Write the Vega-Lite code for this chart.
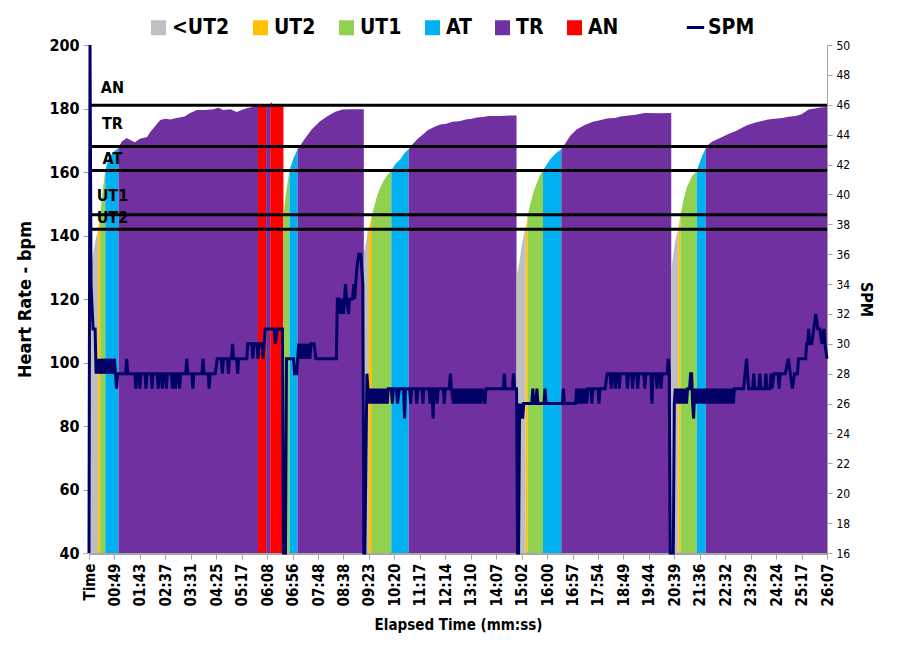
{
"$schema":"https://vega.github.io/schema/vega-lite/v6.json",
"width":738,"height":508,
"autosize":{"type":"none"},
"padding":{"left":89,"top":45,"right":83,"bottom":107},
"background":"white",
"config":{
 "font":"Liberation Sans Narrow, DejaVu Sans Condensed, Liberation Sans, sans-serif",
 "view":{"stroke":null},
 "axis":{"labelColor":"black","titleColor":"black","domainColor":"#A6A6A6","tickColor":"#A6A6A6","grid":false,"labelFontWeight":"bold","titleFontWeight":"bold"},
 "axisX":{"labelOverlap":false,"labelFlush":false},
 "legend":{"labelFontWeight":"bold","labelFontSize":21,"labelColor":"black"}
},
"datasets":{
"th":[{"z":"AN","v":181,"l":186.5,"lx":23},{"z":"TR","v":168,"l":175,"lx":23},{"z":"AT","v":160.5,"l":164,"lx":23},{"z":"UT1","v":146.5,"l":152.5,"lx":23},{"z":"UT2","v":142,"l":145.5,"lx":23}],
"hr":[
{"n":0,"hr":120,"z":"<UT2","s":1},{"n":3,"hr":132,"z":"<UT2","s":1},{"n":6,"hr":138,"z":"<UT2","s":1},{"n":9,"hr":142,"z":"<UT2","s":1},
{"n":9,"hr":142,"z":"UT2","s":2},{"n":11,"hr":146.5,"z":"UT2","s":2},
{"n":11,"hr":146.5,"z":"UT1","s":3},{"n":13,"hr":153,"z":"UT1","s":3},{"n":16,"hr":160.5,"z":"UT1","s":3},
{"n":16,"hr":160.5,"z":"AT","s":4},{"n":19,"hr":164,"z":"AT","s":4},{"n":23,"hr":166,"z":"AT","s":4},{"n":29,"hr":167.6,"z":"AT","s":4},
{"n":29,"hr":167.6,"z":"TR","s":5},{"n":32,"hr":169.5,"z":"TR","s":5},{"n":37,"hr":170.7,"z":"TR","s":5},{"n":41,"hr":170,"z":"TR","s":5},{"n":45,"hr":169.4,"z":"TR","s":5},{"n":50,"hr":170.5,"z":"TR","s":5},{"n":57,"hr":171,"z":"TR","s":5},{"n":60,"hr":172.5,"z":"TR","s":5},{"n":65,"hr":174.5,"z":"TR","s":5},{"n":70,"hr":176.4,"z":"TR","s":5},{"n":75,"hr":176.8,"z":"TR","s":5},{"n":80,"hr":176.5,"z":"TR","s":5},{"n":86,"hr":177,"z":"TR","s":5},{"n":94,"hr":177.5,"z":"TR","s":5},{"n":99,"hr":178.5,"z":"TR","s":5},{"n":106,"hr":179.5,"z":"TR","s":5},{"n":114,"hr":179.5,"z":"TR","s":5},{"n":122,"hr":179.8,"z":"TR","s":5},{"n":127,"hr":180.2,"z":"TR","s":5},{"n":132,"hr":179.5,"z":"TR","s":5},{"n":139,"hr":179.8,"z":"TR","s":5},{"n":145,"hr":178.9,"z":"TR","s":5},{"n":150,"hr":179.5,"z":"TR","s":5},{"n":155,"hr":180.1,"z":"TR","s":5},{"n":160,"hr":180.5,"z":"TR","s":5},{"n":166,"hr":181,"z":"TR","s":5},
{"n":166,"hr":181,"z":"AN","s":6},{"n":167,"hr":181.4,"z":"AN","s":6},{"n":174,"hr":181.4,"z":"AN","s":6},
{"n":174,"hr":181.4,"z":"TR","s":7},{"n":175,"hr":180.8,"z":"TR","s":7},{"n":177,"hr":180.8,"z":"TR","s":7},{"n":178,"hr":181.4,"z":"TR","s":7},
{"n":178,"hr":181.4,"z":"AN","s":8},{"n":179,"hr":182,"z":"AN","s":8},{"n":180,"hr":181.4,"z":"AN","s":8},{"n":191,"hr":181.4,"z":"AN","s":8},
{"n":191,"hr":146.5,"z":"UT1","s":9},{"n":193,"hr":152,"z":"UT1","s":9},{"n":195,"hr":156.5,"z":"UT1","s":9},{"n":197,"hr":160.5,"z":"UT1","s":9},
{"n":197,"hr":160.5,"z":"AT","s":10},{"n":201,"hr":164.5,"z":"AT","s":10},{"n":205,"hr":167.2,"z":"AT","s":10},
{"n":205,"hr":167.2,"z":"TR","s":11},{"n":212,"hr":170.5,"z":"TR","s":11},{"n":219,"hr":173.5,"z":"TR","s":11},{"n":227,"hr":176,"z":"TR","s":11},{"n":235,"hr":177.7,"z":"TR","s":11},{"n":242,"hr":179,"z":"TR","s":11},{"n":249,"hr":179.7,"z":"TR","s":11},{"n":256,"hr":179.8,"z":"TR","s":11},{"n":270,"hr":179.8,"z":"TR","s":11},
{"n":270,"hr":134.5,"z":"<UT2","s":12},{"n":272,"hr":137.5,"z":"<UT2","s":12},{"n":274,"hr":141.7,"z":"<UT2","s":12},{"n":275,"hr":142,"z":"<UT2","s":12},
{"n":275,"hr":142,"z":"UT2","s":13},{"n":278,"hr":146.5,"z":"UT2","s":13},
{"n":278,"hr":146.5,"z":"UT1","s":14},{"n":281,"hr":150,"z":"UT1","s":14},{"n":283,"hr":152.5,"z":"UT1","s":14},{"n":286,"hr":155,"z":"UT1","s":14},{"n":289,"hr":157,"z":"UT1","s":14},{"n":293,"hr":159,"z":"UT1","s":14},{"n":297,"hr":160.5,"z":"UT1","s":14},
{"n":297,"hr":160.5,"z":"AT","s":15},{"n":301,"hr":162.5,"z":"AT","s":15},{"n":306,"hr":164,"z":"AT","s":15},{"n":310,"hr":166,"z":"AT","s":15},{"n":314,"hr":167.2,"z":"AT","s":15},
{"n":314,"hr":167.2,"z":"TR","s":16},{"n":318,"hr":168.8,"z":"TR","s":16},{"n":323,"hr":170.5,"z":"TR","s":16},{"n":328,"hr":171.8,"z":"TR","s":16},{"n":333,"hr":173.2,"z":"TR","s":16},{"n":339,"hr":174.2,"z":"TR","s":16},{"n":345,"hr":175,"z":"TR","s":16},{"n":351,"hr":175.2,"z":"TR","s":16},{"n":357,"hr":175.8,"z":"TR","s":16},{"n":364,"hr":176,"z":"TR","s":16},{"n":370,"hr":176.5,"z":"TR","s":16},{"n":376,"hr":176.8,"z":"TR","s":16},{"n":381,"hr":177.2,"z":"TR","s":16},{"n":387,"hr":177.3,"z":"TR","s":16},{"n":393,"hr":177.6,"z":"TR","s":16},{"n":404,"hr":177.6,"z":"TR","s":16},{"n":414,"hr":177.8,"z":"TR","s":16},{"n":420,"hr":177.8,"z":"TR","s":16},
{"n":420,"hr":127,"z":"<UT2","s":17},{"n":423,"hr":132,"z":"<UT2","s":17},{"n":425,"hr":136.5,"z":"<UT2","s":17},{"n":428,"hr":141.5,"z":"<UT2","s":17},{"n":429,"hr":142,"z":"<UT2","s":17},
{"n":429,"hr":142,"z":"UT2","s":18},{"n":431,"hr":146.5,"z":"UT2","s":18},
{"n":431,"hr":146.5,"z":"UT1","s":19},{"n":434,"hr":150.5,"z":"UT1","s":19},{"n":437,"hr":154,"z":"UT1","s":19},{"n":440,"hr":156.5,"z":"UT1","s":19},{"n":443,"hr":159,"z":"UT1","s":19},{"n":446,"hr":160.5,"z":"UT1","s":19},
{"n":446,"hr":160.5,"z":"AT","s":20},{"n":450,"hr":162.5,"z":"AT","s":20},{"n":454,"hr":164.3,"z":"AT","s":20},{"n":459,"hr":166,"z":"AT","s":20},{"n":464,"hr":167.2,"z":"AT","s":20},
{"n":464,"hr":167.2,"z":"TR","s":21},{"n":469,"hr":169.5,"z":"TR","s":21},{"n":473,"hr":171.5,"z":"TR","s":21},{"n":479,"hr":173.4,"z":"TR","s":21},{"n":487,"hr":174.8,"z":"TR","s":21},{"n":495,"hr":175.8,"z":"TR","s":21},{"n":502,"hr":176.3,"z":"TR","s":21},{"n":510,"hr":176.9,"z":"TR","s":21},{"n":517,"hr":177,"z":"TR","s":21},{"n":522,"hr":177.5,"z":"TR","s":21},{"n":530,"hr":177.8,"z":"TR","s":21},{"n":537,"hr":178,"z":"TR","s":21},{"n":546,"hr":178.6,"z":"TR","s":21},{"n":561,"hr":178.5,"z":"TR","s":21},{"n":572,"hr":178.6,"z":"TR","s":21},
{"n":572,"hr":129,"z":"<UT2","s":22},{"n":574,"hr":134,"z":"<UT2","s":22},{"n":576,"hr":138.5,"z":"<UT2","s":22},{"n":579,"hr":142,"z":"<UT2","s":22},
{"n":579,"hr":142,"z":"UT2","s":23},{"n":581,"hr":146.5,"z":"UT2","s":23},
{"n":581,"hr":146.5,"z":"UT1","s":24},{"n":584,"hr":151,"z":"UT1","s":24},{"n":587,"hr":155,"z":"UT1","s":24},{"n":592,"hr":158.4,"z":"UT1","s":24},{"n":597,"hr":160.5,"z":"UT1","s":24},
{"n":597,"hr":160.5,"z":"AT","s":25},{"n":600,"hr":163,"z":"AT","s":25},{"n":603,"hr":165.5,"z":"AT","s":25},{"n":606,"hr":167.5,"z":"AT","s":25},
{"n":606,"hr":167.5,"z":"TR","s":26},{"n":608,"hr":168.5,"z":"TR","s":26},{"n":612,"hr":169.5,"z":"TR","s":26},{"n":615,"hr":170,"z":"TR","s":26},{"n":622,"hr":171,"z":"TR","s":26},{"n":628,"hr":172,"z":"TR","s":26},{"n":635,"hr":172.8,"z":"TR","s":26},{"n":642,"hr":174,"z":"TR","s":26},{"n":647,"hr":174.8,"z":"TR","s":26},{"n":654,"hr":175.5,"z":"TR","s":26},{"n":660,"hr":176,"z":"TR","s":26},{"n":667,"hr":176.5,"z":"TR","s":26},{"n":674,"hr":176.8,"z":"TR","s":26},{"n":681,"hr":177,"z":"TR","s":26},{"n":687,"hr":177.4,"z":"TR","s":26},{"n":694,"hr":177.6,"z":"TR","s":26},{"n":700,"hr":178.2,"z":"TR","s":26},{"n":707,"hr":179.7,"z":"TR","s":26},{"n":713,"hr":180,"z":"TR","s":26},{"n":718,"hr":180.3,"z":"TR","s":26},{"n":725,"hr":180.5,"z":"TR","s":26}
],
"spm":[
{"n":0,"s":16},{"n":1,"s":50},{"n":2,"s":34},{"n":4,"s":31},{"n":6,"s":31},{"n":7,"s":28},{"n":8,"s":29},{"n":9,"s":28},{"n":10,"s":29},{"n":11,"s":28},{"n":13,"s":29},{"n":14,"s":28},{"n":16,"s":29},{"n":17,"s":28},{"n":19,"s":29},{"n":20,"s":28},{"n":22,"s":29},{"n":23,"s":28},{"n":25,"s":29},{"n":26,"s":28},{"n":27,"s":27},{"n":28,"s":28},{"n":36,"s":28},{"n":37,"s":29},{"n":38,"s":28},{"n":45,"s":28},{"n":46,"s":27},{"n":47,"s":28},{"n":49,"s":28},{"n":50,"s":27},{"n":51,"s":28},{"n":55,"s":28},{"n":56,"s":27},{"n":57,"s":28},{"n":61,"s":28},{"n":62,"s":27},{"n":63,"s":28},{"n":67,"s":28},{"n":68,"s":27},{"n":69,"s":28},{"n":71,"s":28},{"n":72,"s":27},{"n":73,"s":28},{"n":75,"s":28},{"n":76,"s":27},{"n":77,"s":28},{"n":81,"s":28},{"n":82,"s":27},{"n":83,"s":28},{"n":84,"s":28},{"n":85,"s":27},{"n":86,"s":28},{"n":88,"s":28},{"n":89,"s":27},{"n":90,"s":28},{"n":95,"s":28},{"n":96,"s":29},{"n":97,"s":28},{"n":101,"s":28},{"n":102,"s":27},{"n":103,"s":28},{"n":111,"s":28},{"n":112,"s":29},{"n":113,"s":28},{"n":117,"s":28},{"n":118,"s":27},{"n":119,"s":28},{"n":124,"s":28},{"n":126,"s":29},{"n":130,"s":29},{"n":131,"s":28},{"n":132,"s":29},{"n":136,"s":29},{"n":137,"s":28},{"n":138,"s":29},{"n":140,"s":29},{"n":141,"s":30},{"n":142,"s":29},{"n":145,"s":29},{"n":146,"s":28},{"n":147,"s":29},{"n":155,"s":29},{"n":156,"s":30},{"n":160,"s":30},{"n":161,"s":29},{"n":162,"s":30},{"n":165,"s":30},{"n":166,"s":29},{"n":167,"s":30},{"n":170,"s":30},{"n":171,"s":29},{"n":172,"s":30},{"n":173,"s":31},{"n":182,"s":31},{"n":183,"s":30},{"n":185,"s":31},{"n":190,"s":31},{"n":191,"s":16},{"n":193,"s":16},{"n":194,"s":29},{"n":201,"s":29},{"n":202,"s":28},{"n":204,"s":28},{"n":205,"s":29},{"n":206,"s":30},{"n":208,"s":29},{"n":209,"s":30},{"n":211,"s":29},{"n":212,"s":30},{"n":214,"s":29},{"n":215,"s":30},{"n":217,"s":29},{"n":218,"s":30},{"n":221,"s":30},{"n":223,"s":29},{"n":243,"s":29},{"n":244,"s":33},{"n":246,"s":33},{"n":247,"s":32},{"n":248,"s":33},{"n":250,"s":32},{"n":251,"s":33},{"n":252,"s":34},{"n":253,"s":33},{"n":255,"s":32},{"n":256,"s":33},{"n":259,"s":33},{"n":260,"s":34},{"n":261,"s":33},{"n":263,"s":35},{"n":265,"s":36},{"n":267,"s":36},{"n":269,"s":34},{"n":270,"s":16},
{"n":271,"s":16},{"n":273,"s":28},{"n":274,"s":27},{"n":275,"s":26},{"n":276,"s":27},{"n":278,"s":26},{"n":279,"s":27},{"n":281,"s":26},{"n":282,"s":27},{"n":284,"s":26},{"n":285,"s":27},{"n":287,"s":26},{"n":288,"s":27},{"n":290,"s":26},{"n":291,"s":27},{"n":293,"s":26},{"n":294,"s":27},{"n":297,"s":27},{"n":298,"s":26},{"n":299,"s":27},{"n":302,"s":27},{"n":303,"s":26},{"n":305,"s":27},{"n":309,"s":27},{"n":310,"s":25},{"n":311,"s":27},{"n":315,"s":27},{"n":316,"s":26},{"n":317,"s":27},{"n":321,"s":27},{"n":322,"s":26},{"n":323,"s":27},{"n":327,"s":27},{"n":328,"s":26},{"n":329,"s":27},{"n":334,"s":27},{"n":335,"s":26},{"n":336,"s":27},{"n":337,"s":27},{"n":338,"s":25},{"n":339,"s":27},{"n":341,"s":27},{"n":342,"s":26},{"n":343,"s":27},{"n":348,"s":27},{"n":349,"s":26},{"n":350,"s":27},{"n":354,"s":27},{"n":355,"s":28},{"n":356,"s":27},{"n":358,"s":26},{"n":359,"s":27},{"n":361,"s":26},{"n":362,"s":27},{"n":364,"s":26},{"n":365,"s":27},{"n":367,"s":26},{"n":368,"s":27},{"n":370,"s":26},{"n":371,"s":27},{"n":373,"s":26},{"n":374,"s":27},{"n":376,"s":26},{"n":377,"s":27},{"n":379,"s":26},{"n":380,"s":27},{"n":382,"s":26},{"n":383,"s":27},{"n":385,"s":26},{"n":386,"s":27},{"n":389,"s":26},{"n":390,"s":27},{"n":407,"s":27},{"n":408,"s":28},{"n":409,"s":27},{"n":416,"s":27},{"n":417,"s":28},{"n":418,"s":27},{"n":420,"s":27},{"n":421,"s":16},{"n":422,"s":16},{"n":423,"s":26},{"n":424,"s":25},{"n":425,"s":26},{"n":426,"s":25},{"n":427,"s":26},
{"n":430,"s":26},{"n":435,"s":26},{"n":436,"s":27},{"n":437,"s":26},{"n":439,"s":26},{"n":440,"s":27},{"n":441,"s":26},{"n":447,"s":26},{"n":448,"s":27},{"n":449,"s":26},{"n":465,"s":26},{"n":466,"s":27},{"n":467,"s":26},{"n":478,"s":26},{"n":479,"s":27},{"n":480,"s":26},{"n":481,"s":27},{"n":483,"s":26},{"n":484,"s":27},{"n":486,"s":26},{"n":487,"s":27},{"n":489,"s":26},{"n":490,"s":27},{"n":493,"s":27},{"n":494,"s":26},{"n":495,"s":27},{"n":500,"s":27},{"n":501,"s":26},{"n":502,"s":27},{"n":507,"s":27},{"n":509,"s":28},{"n":512,"s":28},{"n":513,"s":27},{"n":514,"s":28},{"n":516,"s":28},{"n":517,"s":27},{"n":518,"s":28},{"n":520,"s":28},{"n":521,"s":27},{"n":522,"s":28},{"n":528,"s":28},{"n":529,"s":27},{"n":530,"s":28},{"n":533,"s":28},{"n":534,"s":27},{"n":535,"s":28},{"n":538,"s":28},{"n":539,"s":27},{"n":540,"s":28},{"n":545,"s":28},{"n":546,"s":27},{"n":547,"s":28},{"n":552,"s":28},{"n":553,"s":26},{"n":554,"s":28},{"n":557,"s":28},{"n":558,"s":27},{"n":559,"s":28},{"n":561,"s":28},{"n":562,"s":27},{"n":563,"s":28},{"n":568,"s":28},{"n":569,"s":29},{"n":570,"s":28},{"n":571,"s":16},
{"n":572,"s":16},{"n":574,"s":16},{"n":575,"s":26},{"n":576,"s":27},{"n":578,"s":26},{"n":579,"s":27},{"n":581,"s":26},{"n":582,"s":27},{"n":584,"s":26},{"n":585,"s":27},{"n":587,"s":26},{"n":588,"s":27},{"n":590,"s":27},{"n":591,"s":28},{"n":592,"s":28},{"n":593,"s":26},{"n":594,"s":25},{"n":595,"s":27},{"n":597,"s":26},{"n":598,"s":27},{"n":600,"s":26},{"n":601,"s":27},{"n":603,"s":26},{"n":604,"s":27},{"n":606,"s":26},{"n":607,"s":27},{"n":609,"s":26},{"n":610,"s":27},{"n":612,"s":26},{"n":613,"s":27},{"n":615,"s":26},{"n":616,"s":27},{"n":618,"s":26},{"n":619,"s":27},{"n":621,"s":26},{"n":622,"s":27},{"n":624,"s":26},{"n":625,"s":27},{"n":627,"s":26},{"n":628,"s":27},{"n":630,"s":26},{"n":631,"s":27},{"n":633,"s":26},{"n":634,"s":27},{"n":643,"s":27},{"n":646,"s":29},{"n":648,"s":27},{"n":652,"s":27},{"n":653,"s":28},{"n":654,"s":27},{"n":658,"s":27},{"n":659,"s":28},{"n":660,"s":27},{"n":664,"s":27},{"n":665,"s":28},{"n":666,"s":27},{"n":669,"s":27},{"n":670,"s":28},{"n":671,"s":27},{"n":673,"s":28},{"n":677,"s":28},{"n":678,"s":27},{"n":679,"s":28},{"n":684,"s":28},{"n":687,"s":29},{"n":689,"s":28},{"n":691,"s":27},{"n":693,"s":28},{"n":696,"s":28},{"n":697,"s":29},{"n":704,"s":29},{"n":705,"s":30},{"n":706,"s":30},{"n":707,"s":31},{"n":708,"s":30},{"n":710,"s":30},{"n":712,"s":31},{"n":714,"s":32},{"n":716,"s":31},{"n":718,"s":31},{"n":720,"s":30},{"n":722,"s":31},{"n":723,"s":30},{"n":725,"s":29}
]
},
"layer":[
 {"layer":[
  {"data":{"name":"hr"},
   "mark":{"type":"area","interpolate":"linear"},
   "encoding":{
    "x":{"field":"n","type":"quantitative","scale":{"domain":[0,725],"nice":false,"zero":false},"axis":null},
    "y":{"field":"hr","type":"quantitative","title":"Heart Rate - bpm","scale":{"domain":[40,200],"nice":false,"zero":false},
      "axis":{"values":[40,60,80,100,120,140,160,180,200],"labelFontSize":16,"titleFontSize":18,"tickSize":6,"labelPadding":4,"titlePadding":14}},
    "y2":{"datum":40},
    "color":{"field":"z","type":"nominal","scale":{"domain":["<UT2","UT2","UT1","AT","TR","AN"],"range":["#BFBFBF","#FFC000","#92D050","#00B0F0","#7030A0","#FF0000"]},
      "legend":{"title":null,"orient":"none","legendX":59,"legendY":-28,"direction":"horizontal","symbolType":"square","symbolSize":225,"symbolStrokeWidth":0,"columnPadding":20,"labelOffset":3}},
    "detail":{"field":"s"}}},
  {"data":{"name":"th"},
   "mark":{"type":"rule","color":"black","strokeWidth":3},
   "encoding":{"y":{"field":"v","type":"quantitative","title":"Heart Rate - bpm"}}},
  {"data":{"name":"th"},
   "mark":{"type":"text","fontWeight":"bold","fontSize":16,"align":"center","baseline":"middle","color":"black"},
   "encoding":{"x":{"field":"lx","type":"quantitative","axis":null},"y":{"field":"l","type":"quantitative","title":"Heart Rate - bpm"},"text":{"field":"z"}}}
 ]},
 {"data":{"name":"spm"},
  "mark":{"type":"line","strokeWidth":3,"interpolate":"linear"},
  "encoding":{
   "x":{"field":"n","type":"quantitative","title":"Elapsed Time (mm:ss)",
      "axis":{"values":[0,25,50,75,100,125,150,175,200,225,250,275,300,325,350,375,400,425,450,475,500,525,550,575,600,625,650,675,700,725],
        "labelExpr":"['Time','00:49','01:43','02:37','03:31','04:25','05:17','06:08','06:56','07:48','08:38','09:23','10:20','11:17','12:14','13:10','14:07','15:02','16:00','16:57','17:54','18:49','19:44','20:39','21:36','22:32','23:29','24:24','25:17','26:07'][round(datum.value/25)]",
        "labelAngle":270,"labelAlign":"right","labelBaseline":"middle","labelFontSize":15,"labelPadding":4,"labelOverlap":false,"labelFlush":false,
        "domainWidth":3,"tickSize":6,"titleFontSize":15,"titlePadding":12}},
   "y":{"field":"s","type":"quantitative","title":"SPM","scale":{"domain":[16,50],"nice":false,"zero":false},
     "axis":{"orient":"right","values":[16,18,20,22,24,26,28,30,32,34,36,38,40,42,44,46,48,50],"labelFontSize":12,"labelFontWeight":"normal","titleFontSize":16,"tickSize":5,"labelPadding":4,"titlePadding":8}},
   "stroke":{"datum":"SPM","scale":{"range":["#000066"]},
     "legend":{"title":null,"orient":"none","legendX":596,"legendY":-28,"symbolType":"stroke","symbolStrokeWidth":3,"symbolSize":300,"labelOffset":2}}}}
],
"resolve":{"scale":{"y":"independent"},"axis":{"x":"independent"}}
}
